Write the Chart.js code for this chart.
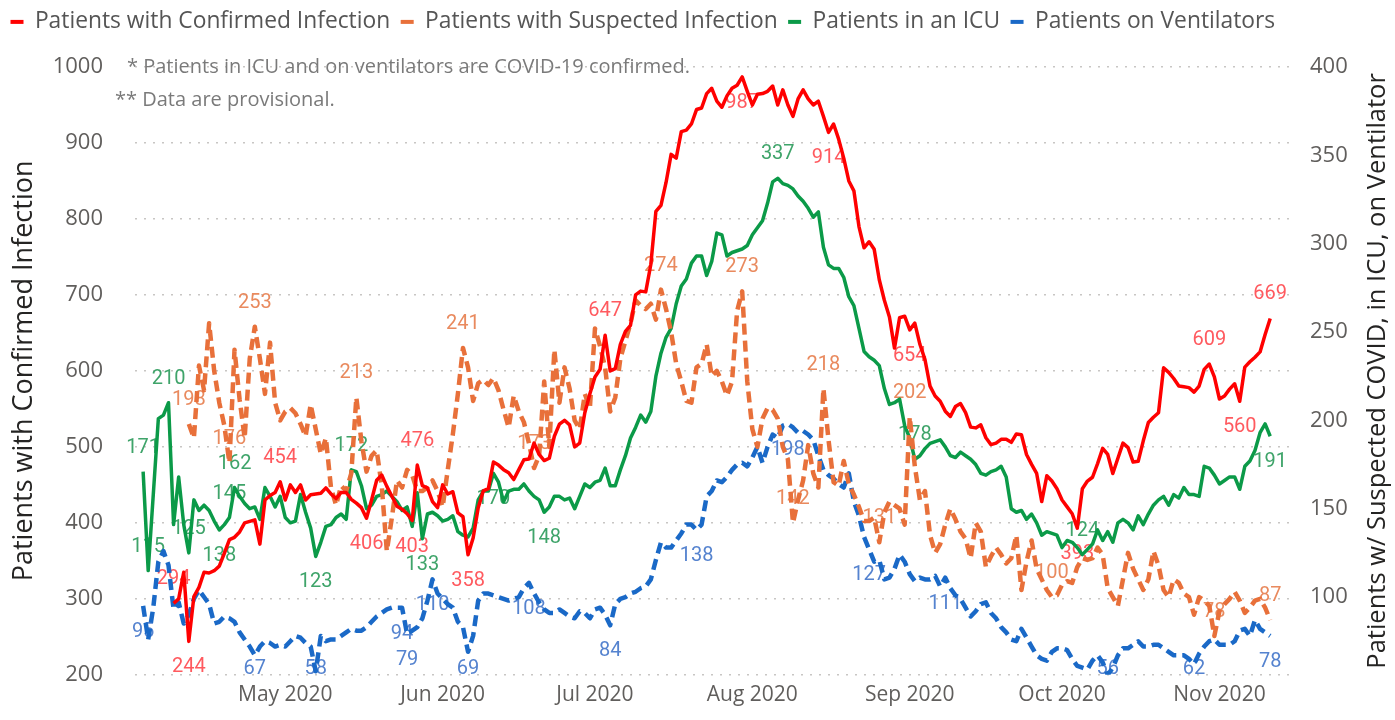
<!DOCTYPE html>
<html>
<head>
<meta charset="utf-8">
<script src="https://cdn.jsdelivr.net/npm/chart.js@4"></script>
<style>
  html, body { margin: 0; padding: 0; background: #fff; overflow: hidden; }
  canvas { display: block; }
</style>
</head>
<body>
<canvas id="chart" width="1395" height="720"></canvas>
<script>
// day 0 = 3 Apr 2020, one value per day
const seriesNames = ['Patients with Confirmed Infection', 'Patients with Suspected Infection', 'Patients in an ICU', 'Patients on Ventilators'];
const monthDays = [28, 59, 89, 120, 151, 181, 212];
const monthLabels = ['May 2020', 'Jun 2020', 'Jul 2020', 'Aug 2020', 'Sep 2020', 'Oct 2020', 'Nov 2020'];
const leftTicks = { min: 200, max: 1000, step: 100 };
const rightTicks = { min: 56, max: 400, step: 50 };
const notes = ['* Patients in ICU and on ventilators are COVID-19 confirmed.', '** Data are provisional.'];

const confirmed = [
  null, null, null, null, null, null, 294, 300, 335, 244,
  303, 315, 335, 334, 337, 343, 360, 378, 381, 388,
  400, 402, 404, 372, 430, 436, 440, 454, 430, 450,
  440, 450, 430, 437, 438, 439, 446, 438, 432, 440,
  440, 431, 426, 420, 406, 430, 456, 463, 448, 435,
  422, 418, 412, 403, 476, 449, 446, 428, 420, 450,
  438, 441, 413, 408, 358, 380, 420, 442, 445, 480,
  476, 470, 466, 457, 470, 483, 484, 505, 490, 482,
  485, 514, 530, 535, 529, 500, 505, 545, 570, 592,
  602, 647, 600, 603, 635, 652, 660, 700, 705, 704,
  740, 810, 818, 848, 885, 880, 915, 917, 925, 944,
  946, 965, 972, 955, 947, 962, 972, 976, 987, 968,
  950, 964, 965, 968, 975, 950, 970, 950, 935, 958,
  970, 958, 950, 955, 935, 914, 925, 905, 880, 850,
  837, 790, 762, 770, 760, 720, 693, 671, 630, 670,
  672, 654, 663, 635, 615, 580, 567, 560, 547, 540,
  553, 557, 545, 526, 525, 529, 512, 503, 505, 510,
  510, 506, 517, 516, 490, 477, 465, 428, 462, 455,
  445, 430, 421, 412, 393, 445, 455, 460, 478, 498,
  490, 465, 485, 505, 499, 480, 481, 508, 532, 539,
  545, 604, 598, 590, 580, 579, 578, 572, 580, 602,
  609, 592, 563, 567, 576, 583, 560, 605, 612, 618,
  625, 648, 669
];
const suspected = [
  null, null, null, null, null, null, null, null, null, 198,
  190, 231, 217, 255, 228, 210, 197, 176, 240, 212,
  190, 235, 253, 235, 215, 244, 210, 200, 205, 207,
  204, 198, 191, 209, 195, 181, 190, 162, 152, 163,
  160, 170, 213, 188, 171, 180, 183, 163, 126, 145,
  166, 162, 172, 169, 160, 160, 162, 166, 160, 151,
  172, 192, 215, 241, 230, 211, 221, 223, 220, 224,
  217, 206, 196, 214, 205, 199, 187, 173, 180, 222,
  185, 240, 210, 230, 218, 200, 195, 215, 207, 252,
  242, 230, 205, 213, 235, 245, 255, 268, 265, 263,
  266, 257, 274, 263, 250, 232, 222, 211, 210, 230,
  232, 243, 225, 228, 222, 214, 222, 262, 273, 222,
  195, 185, 201, 207, 206, 201, 185, 178, 142, 155,
  166, 186, 170, 162, 218, 189, 165, 163, 177, 164,
  158, 151, 143, 143, 145, 131, 148, 154, 152, 150,
  141, 202, 174, 155, 160, 135, 125, 130, 141, 150,
  144, 137, 133, 122, 142, 137, 117, 123, 128, 124,
  119, 122, 135, 104, 120, 132, 116, 110, 104, 100,
  101, 107, 109, 108, 117, 122, 121, 122, 128, 124,
  105, 100, 95, 110, 125, 116, 110, 104, 110, 126,
  118, 104, 100, 110, 108, 102, 100, 90, 100, 98,
  95, 78, 92, 96, 99, 103, 98, 91, 94, 98,
  99, 94, 87
];
const icu = [
  171, 115, 158, 201, 203, 210, 141, 168, 141, 125,
  155, 149, 152, 149, 143, 138, 141, 145, 162, 157,
  153, 150, 151, 144, 162, 157, 151, 157, 145, 142,
  143, 158, 148, 139, 123, 131, 140, 141, 145, 147,
  144, 172, 171, 163, 150, 152, 157, 158, 160, 157,
  154, 149, 151, 140, 159, 133, 147, 148, 146, 143,
  144, 146, 137, 135, 134, 139, 155, 160, 160, 170,
  165, 154, 160, 161, 161, 164, 160, 157, 155, 148,
  151, 157, 157, 155, 156, 150, 157, 164, 162, 165,
  166, 173, 163, 163, 172, 180, 190, 196, 203, 199,
  205, 225, 238, 247, 252, 266, 276, 280, 289, 293,
  293, 282, 290, 306, 305, 293, 295, 296, 297, 299,
  305, 309, 313, 323, 335, 337, 334, 333, 331, 327,
  324, 320, 315, 318, 298, 288, 286, 286, 281, 270,
  265, 252, 239, 236, 234, 231, 218, 209, 210, 212,
  197, 190, 178, 180, 184, 187, 188, 189, 185, 180,
  179, 182, 180, 178, 175, 170, 169, 171, 172, 174,
  168, 150, 148, 149, 144, 147, 142, 135, 137, 136,
  135, 128, 132, 131, 128, 124, 127, 130, 138, 132,
  137, 131, 142, 144, 142, 138, 146, 141, 147, 152,
  155, 157, 152, 158, 156, 162, 158, 158, 157, 174,
  173, 169, 164, 166, 168, 168, 161, 174, 177, 183,
  193, 198, 191
];
const ventilators = [
  95, 76, 94, 120, 126, 118, 93, 97, 85, 90,
  99, 104, 100, 96, 85, 86, 89, 88, 86, 80,
  76, 72, 67, 72, 75, 74, 72, 73, 72, 75,
  78, 77, 74, 72, 58, 78, 75, 76, 76, 78,
  80, 82, 81, 81, 83, 86, 89, 91, 93, 94,
  94, 94, 79, 81, 83, 88, 98, 110, 102, 99,
  96, 94, 86, 83, 69, 78, 98, 102, 102, 101,
  100, 99, 98, 99, 100, 105, 108, 102, 97, 93,
  91, 91, 93, 91, 89, 88, 92, 91, 88, 93,
  94, 90, 84, 96, 99, 100, 102, 103, 105, 106,
  110, 121, 131, 128, 128, 132, 136, 141, 141, 138,
  141, 157, 160, 166, 165, 168, 172, 175, 176, 174,
  179, 185, 176, 185, 192, 190, 197, 198, 196, 193,
  194, 192, 189, 180, 172, 169, 167, 164, 162, 170,
  154, 146, 134, 127, 120, 121, 110, 111, 116, 124,
  120, 113, 109, 111, 110, 110, 112, 106, 111, 105,
  101, 99, 94, 89, 92, 96, 97, 91, 88, 83,
  80, 76, 75, 82, 77, 72, 67, 65, 64, 69,
  71, 71, 70, 65, 61, 60, 59, 64, 67, 63,
  56, 60, 67, 71, 71, 73, 75, 72, 72, 73,
  73, 71, 69, 67, 67, 67, 65, 62, 68, 72,
  75, 76, 73, 73, 73, 75, 81, 82, 78, 87,
  82, 80, 78
];

// which days carry a data label, a = above the line, b = below
const confirmedLabelDays = [[6, 'a'], [9, 'b'], [27, 'a'], [44, 'b'], [53, 'b'], [54, 'a'], [64, 'b'], [91, 'a'], [118, 'b'], [135, 'b'], [151, 'b'], [184, 'b'], [210, 'a'], [216, 'b'], [222, 'a']];
const suspectedLabelDays = [[9, 'a'], [17, 'a'], [22, 'a'], [42, 'a'], [63, 'a'], [77, 'a'], [102, 'a'], [118, 'a'], [128, 'a'], [134, 'a'], [145, 'a'], [151, 'a'], [179, 'a'], [211, 'a'], [222, 'a']];
const icuLabelDays = [[0, 'a'], [1, 'a'], [5, 'a'], [9, 'a'], [15, 'b'], [17, 'a'], [18, 'a'], [34, 'b'], [41, 'a'], [55, 'b'], [69, 'b'], [79, 'b'], [125, 'a'], [152, 'a'], [185, 'a'], [222, 'b']];
const ventLabelDays = [[0, 'b'], [22, 'b'], [34, 'b'], [51, 'b'], [52, 'b'], [57, 'b'], [64, 'b'], [76, 'b'], [92, 'b'], [109, 'b'], [127, 'b'], [143, 'b'], [158, 'b'], [190, 'b'], [207, 'b'], [222, 'b']];

const lineColors = ['#FF0000', '#E8703A', '#0B9A48', '#1A69C7'];
const labelColors = ['#FF5A5F', '#E98A5E', '#3FA46A', '#5583CF'];
const labelDays = [confirmedLabelDays, suspectedLabelDays, icuLabelDays, ventLabelDays];

Chart.defaults.font.family = 'Open Sans';

const toPoints = arr => arr.map((v, i) => ({ x: i, y: v }));

const legendBox = {
  id: 'legendBox',
  beforeInit(chart) {
    const fit = chart.legend.fit;
    chart.legend.fit = function () {
      fit.call(this);
      this.height = 67;
    };
  }
};

const extras = {
  id: 'extras',
  beforeDatasetsDraw(chart) {
    const ctx = chart.ctx;
    const area = chart.chartArea;
    ctx.save();
    // notes
    ctx.font = '20px "Open Sans"';
    ctx.fillStyle = '#7A7A7A';
    ctx.textAlign = 'left';
    ctx.textBaseline = 'middle';
    ctx.fillText(notes[0], 127, area.top);
    ctx.fillText(notes[1], 115, area.top + 33);
    // value labels
    ctx.font = '20px Roboto';
    ctx.textAlign = 'center';
    labelDays.forEach((days, di) => {
      const meta = chart.getDatasetMeta(di);
      const data = chart.data.datasets[di].data;
      ctx.fillStyle = labelColors[di];
      days.forEach(([idx, side]) => {
        const pt = meta.data[idx];
        if (!pt || data[idx].y == null) return;
        let y = pt.y + (side === 'a' ? -24 : 26);
        y = Math.min(y, area.bottom - 6);
        ctx.fillText(String(data[idx].y), pt.x, y);
      });
    });
    ctx.restore();
  },
  afterDraw(chart) {
    const ctx = chart.ctx;
    const area = chart.chartArea;
    ctx.save();
    ctx.font = '25.5px "Open Sans"';
    ctx.fillStyle = '#252423';
    ctx.textAlign = 'center';
    ctx.textBaseline = 'middle';
    ctx.translate(1378, (area.top + area.bottom) / 2);
    ctx.rotate(-Math.PI / 2);
    ctx.fillText('Patients w/ Suspected COVID, in ICU, on Ventilator', 0, 0);
    ctx.restore();
  }
};

new Chart(document.getElementById('chart'), {
  type: 'line',
  data: {
    datasets: [
      { label: seriesNames[0], data: toPoints(confirmed), yAxisID: 'y', borderColor: lineColors[0], backgroundColor: lineColors[0], borderWidth: 3.5 },
      { label: seriesNames[1], data: toPoints(suspected), yAxisID: 'y1', borderColor: lineColors[1], backgroundColor: lineColors[1], borderWidth: 4.5, borderDash: [11, 6] },
      { label: seriesNames[2], data: toPoints(icu), yAxisID: 'y1', borderColor: lineColors[2], backgroundColor: lineColors[2], borderWidth: 3.5 },
      { label: seriesNames[3], data: toPoints(ventilators), yAxisID: 'y1', borderColor: lineColors[3], backgroundColor: lineColors[3], borderWidth: 4.5, borderDash: [11, 6] }
    ]
  },
  options: {
    responsive: false,
    animation: false,
    devicePixelRatio: 1,
    layout: { padding: 0 },
    elements: {
      point: { radius: 0, hoverRadius: 0 },
      line: { tension: 0, borderJoinStyle: 'round' }
    },
    plugins: {
      tooltip: { enabled: false },
      legend: {
        position: 'top',
        align: 'start',
        labels: {
          boxWidth: 13,
          boxHeight: 4,
          padding: 10.5,
          color: '#555555',
          font: { size: 22.8 },
          generateLabels(chart) {
            return Chart.defaults.plugins.legend.labels.generateLabels(chart)
              .map(item => ({ ...item, fillStyle: item.strokeStyle, lineWidth: 0, lineDash: [] }));
          }
        }
      }
    },
    scales: {
      x: {
        type: 'linear',
        min: -1.6,
        max: 225.9,
        grid: { display: false, drawTicks: false },
        border: { display: false },
        afterBuildTicks: s => { s.ticks = monthDays.map(v => ({ value: v })); },
        afterFit: s => { s.height = 34; },
        ticks: {
          autoSkip: false,
          maxRotation: 0,
          minRotation: 0,
          padding: 8,
          color: '#605E5C',
          font: { size: 21 },
          callback: (v, i) => monthLabels[i]
        }
      },
      y: {
        position: 'left',
        min: leftTicks.min,
        max: leftTicks.max,
        afterFit: s => { s.width = 135; },
        grid: { color: '#C8C6C4', lineWidth: 1.5, drawTicks: false },
        border: { display: false, dash: [2, 7] },
        ticks: { stepSize: leftTicks.step, padding: 32, color: '#605E5C', font: { size: 22 }, callback: v => String(v) },
        title: {
          display: true,
          text: seriesNames[0],
          color: '#252423',
          font: { size: 27 },
          padding: { top: 8, bottom: 0 }
        }
      },
      y1: {
        position: 'right',
        min: rightTicks.min,
        max: rightTicks.max,
        afterFit: s => { s.width = 105; },
        afterBuildTicks: s => { s.ticks = s.ticks.filter(t => t.value % rightTicks.step === 0); },
        grid: { display: false },
        border: { display: false },
        ticks: { stepSize: rightTicks.step, padding: 12, color: '#605E5C', font: { size: 22 }, callback: v => String(v) }
      }
    }
  },
  plugins: [legendBox, extras]
});
</script>
</body>
</html>
